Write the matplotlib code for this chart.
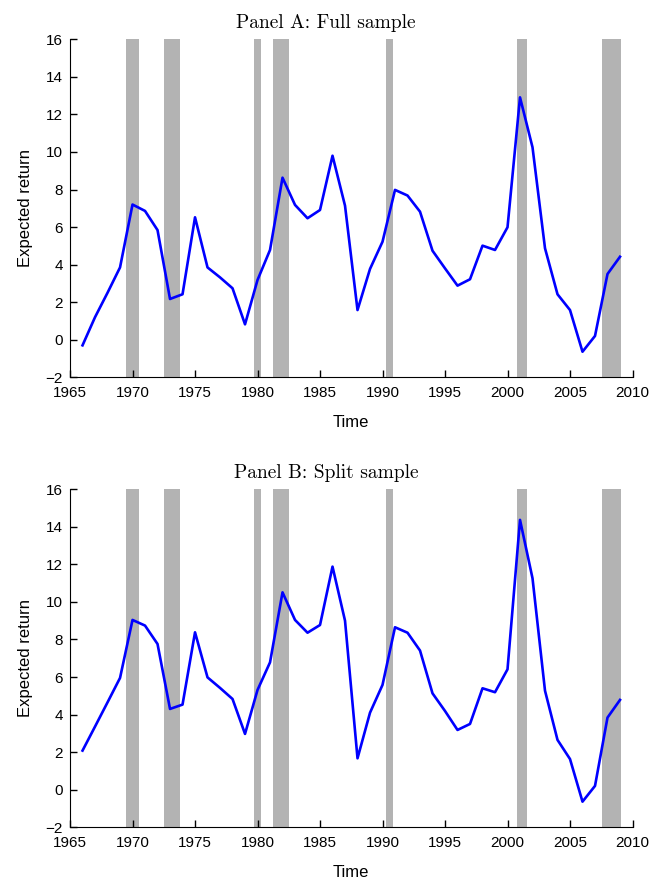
import matplotlib
matplotlib.use("Agg")
import matplotlib.pyplot as plt

years = list(range(1966, 2010))

full_sample = [-0.3, 1.2, 2.5, 3.85, 7.2, 6.86, 5.84, 2.17, 2.42, 6.52,
               3.85, 3.32, 2.74, 0.82, 3.18, 4.78, 8.63, 7.18, 6.47, 6.91,
               9.8, 7.14, 1.58, 3.77, 5.22, 7.98, 7.68, 6.82, 4.74, 3.8,
               2.88, 3.22, 5.01, 4.78, 5.99, 12.91, 10.25, 4.87, 2.42, 1.58,
               -0.64, 0.2, 3.5, 4.42]

split_sample = [2.08, 3.36, 4.65, 5.95, 9.04, 8.74, 7.76, 4.3, 4.53, 8.38,
                5.98, 5.42, 4.83, 2.97, 5.31, 6.78, 10.51, 9.04, 8.36, 8.77,
                11.88, 9.0, 1.67, 4.1, 5.58, 8.65, 8.36, 7.41, 5.13, 4.19,
                3.18, 3.5, 5.4, 5.19, 6.41, 14.37, 11.26, 5.27, 2.65, 1.63,
                -0.64, 0.2, 3.84, 4.78]

# recession shading (start, end) in years
recessions = [(1969.48, 1970.52), (1972.52, 1973.8), (1979.72, 1980.28),
              (1981.24, 1982.52), (1990.25, 1990.84), (2000.73, 2001.56),
              (2007.56, 2009.08)]

panels = [("Panel A: Full sample", full_sample),
          ("Panel B: Split sample", split_sample)]

plt.rcParams['font.family'] = ['Liberation Sans', 'DejaVu Sans']
plt.rcParams['axes.unicode_minus'] = True

fig = plt.figure(figsize=(6.52, 8.8), dpi=100)
boxes = [[0.1074, 0.5713, 0.8627, 0.384], [0.1074, 0.0600, 0.8627, 0.384]]

for box, (title, values) in zip(boxes, panels):
    ax = fig.add_axes(box)
    for start, end in recessions:
        ax.axvspan(start, end, color='#b3b3b3', lw=0, zorder=1)
    ax.plot(years, values, color='#0000ff', lw=1.9, zorder=3)
    ax.set_xlim(1965, 2010)
    ax.set_ylim(-2, 16)
    ax.set_xticks(range(1965, 2011, 5))
    ax.set_yticks(range(-2, 17, 2))
    ax.spines['top'].set_visible(False)
    ax.spines['right'].set_visible(False)
    ax.tick_params(direction='in', length=5, width=1, labelsize=11)
    ax.tick_params(axis='x', pad=6)
    ax.tick_params(axis='y', pad=5)
    ax.set_xlabel('Time', fontsize=12, labelpad=11)
    ax.set_ylabel('Expected return', fontsize=12, labelpad=9)
    # title is centred on the figure, not on the axes
    ax.set_title(title, family='cmr10', fontsize=14, pad=8, x=0.455)

fig.savefig('out.png', dpi=100)
